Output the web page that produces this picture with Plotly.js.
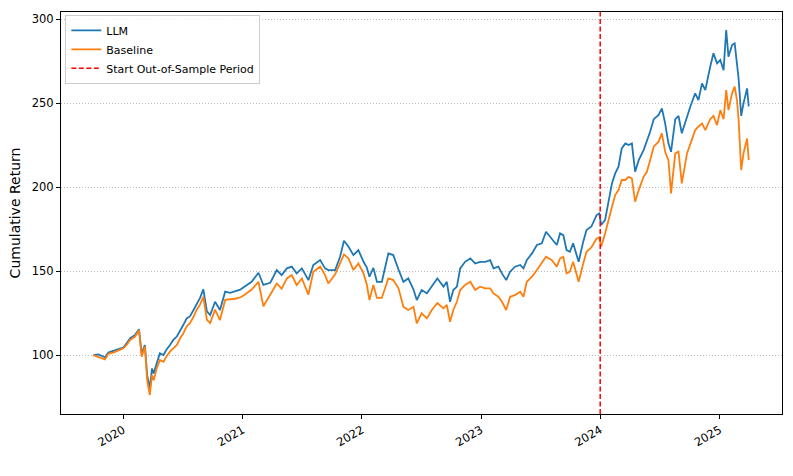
<!DOCTYPE html>
<html>
<head>
<meta charset="utf-8">
<script src="https://cdn.plot.ly/plotly-3.0.1.min.js"></script>
<style>html,body{margin:0;padding:0;background:#fff;}#chart{width:793px;height:476px;}</style>
</head>
<body>
<div id="chart"></div>
<script>
const dates = ["2019-10-01","2019-10-16","2019-11-06","2019-11-16","2019-12-01","2019-12-17","2020-01-01","2020-01-11","2020-01-22","2020-02-06",
"2020-02-18","2020-02-26","2020-03-07","2020-03-14","2020-03-22","2020-03-29","2020-04-03","2020-04-12","2020-04-22","2020-05-03",
"2020-05-13","2020-05-23","2020-06-02","2020-06-13","2020-06-23","2020-07-03","2020-07-13","2020-07-23","2020-08-03","2020-08-13",
"2020-08-23","2020-09-02","2020-09-13","2020-09-23","2020-10-08","2020-10-23","2020-11-08","2020-11-23","2020-12-08","2020-12-24",
"2021-01-08","2021-01-28","2021-02-18","2021-03-05","2021-03-26","2021-04-15","2021-04-30","2021-05-16","2021-05-31","2021-06-15",
"2021-07-01","2021-07-21","2021-08-05","2021-08-26","2021-09-10","2021-09-20","2021-10-11","2021-10-26","2021-11-07","2021-11-21",
"2021-12-06","2021-12-21","2022-01-06","2022-01-16","2022-01-24","2022-02-05","2022-02-16","2022-03-03","2022-03-23","2022-04-07",
"2022-04-23","2022-05-08","2022-05-23","2022-06-08","2022-06-18","2022-07-03","2022-07-19","2022-08-03","2022-08-20","2022-09-08",
"2022-09-18","2022-09-28","2022-10-08","2022-10-19","2022-10-29","2022-11-13","2022-11-29","2022-12-14","2022-12-29","2023-01-14",
"2023-01-29","2023-02-08","2023-02-23","2023-03-06","2023-03-19","2023-03-31","2023-04-15","2023-05-01","2023-05-11","2023-05-21",
"2023-06-06","2023-06-21","2023-07-06","2023-07-19","2023-08-06","2023-08-21","2023-08-31","2023-09-10","2023-09-20","2023-09-30",
"2023-10-10","2023-10-21","2023-10-27","2023-11-10","2023-11-20","2023-12-05","2023-12-21","2023-12-29","2024-01-04","2024-01-16",
"2024-01-26","2024-02-06","2024-02-16","2024-02-26","2024-03-07","2024-03-18","2024-03-28","2024-04-07","2024-04-17","2024-04-28",
"2024-05-13","2024-05-23","2024-06-02","2024-06-13","2024-06-28","2024-07-08","2024-07-18","2024-07-28","2024-08-05","2024-08-18",
"2024-08-28","2024-09-07","2024-09-23","2024-10-03","2024-10-18","2024-10-28","2024-11-08","2024-11-18","2024-12-03","2024-12-13",
"2024-12-24","2025-01-03","2025-01-13","2025-01-21","2025-01-28","2025-02-08","2025-02-16","2025-02-23","2025-02-28","2025-03-08",
"2025-03-15","2025-03-26","2025-03-31"];

const llm = [100,100.3,98.7,101.5,102.5,103.5,104.5,107,110,112,
115.3,101,106,88,80.2,92,89,95,101,100,
103.5,106,109,111,115,118,121.8,123,126.8,130.8,
134,139.1,126,123.8,131.7,126.8,137.7,137,138,138.9,
141,143.6,149,141.7,143,150.6,147.6,151.6,152.6,148.6,
151.6,144.6,153.6,156.5,151.6,150.6,150.6,158.5,168,164.5,
159.5,162.5,155.5,152,146.6,151.9,143.6,143.6,160.5,159.5,
150.9,143.6,145.6,139,132.7,138.7,136.7,140.7,145.6,140.7,
143.6,131.7,138.7,140.7,151.6,155.5,157.5,154.5,155.5,155.5,
156.5,151.6,152.6,148.6,144.6,149.6,152.6,153.6,151.6,156.5,
160.5,165.5,166.5,173.4,169.4,165.5,172.4,171.4,162.5,161.5,
166.5,159.5,155.5,167.5,174.4,176.5,183.3,184.3,177.4,180.4,
190.3,202.2,208.1,212.1,223,226,225,226,209.1,216,
222,227,232.9,240.4,242.9,246.8,237.9,226,221,240.4,
242.4,232,242.4,247.8,255.8,251.8,261.7,257.7,271.6,279.6,
273.6,275.6,269.6,293.5,277.6,284.5,285.5,273.6,264.7,242.4,
249.8,258.7,248];

const baseline = [100,98.8,97.4,100.8,101.5,102.8,104,106,109,111,
114.8,99,105,85,76.2,88,85,92,97,96,
99.5,102,104,106,110,113,117,119,122.8,127,
130,134.7,121,119,127,120.8,132.8,133,133.5,134.3,
136,139,143.6,129,136,142.6,139.5,145.6,147.6,141.7,
145.6,136,149.6,152.6,147.6,142.6,148,154.5,159.9,157.5,
150.6,154.5,148.6,142,132.7,141.7,134,134,145.6,144.6,
139.7,128.7,126.8,128.7,118.8,124.8,121.8,126.8,131,127.8,
129.8,119.8,126.8,131.7,138.7,141.7,143.6,138.7,140.7,139.7,
139.7,136.7,134.7,131.7,126.8,134.7,135.7,137.7,134.7,143.6,
146.6,150.6,154.5,158.5,156.5,152.6,157.5,158.5,148.6,149.6,
155.5,147.6,143.6,154.5,161.5,164,169.4,170,164.5,172.4,
180.4,188.3,195.2,198.2,204.2,204.2,206.1,205.2,191.3,198.2,
206.1,209.1,216,224,227,232,221,216,196.2,220,
221,202.2,220,226,233.9,235.9,237.9,233.9,240.4,242.4,
236.9,245.8,240.4,257.7,245.8,255.8,259.8,251.8,240.4,210,
220,228.9,216];

const seriesNames = ["LLM", "Baseline"];
const oosLabel = "Start Out-of-Sample Period";
const oosDate = "2024-01-01";
const yTicks = [100, 150, 200, 250, 300];
const xRange = ["2019-06-24", "2025-07-11"];
const yRange = [64.9, 304.2];

const traces = [
  {x: dates, y: llm, name: seriesNames[0], type: "scatter", mode: "lines",
   line: {color: "#1f77b4", width: 1.8}},
  {x: dates, y: baseline, name: seriesNames[1], type: "scatter", mode: "lines",
   line: {color: "#ff7f0e", width: 1.8}},
  {x: [oosDate, oosDate], y: yRange, name: oosLabel, type: "scatter", mode: "lines",
   line: {color: "red", width: 1.5, dash: "5px,2.5px"}}
];

const font = "DejaVu Sans, Arial, sans-serif";
const layout = {
  width: 793, height: 476,
  margin: {l: 61, r: 11, t: 12, b: 62},
  paper_bgcolor: "#fff", plot_bgcolor: "#fff",
  font: {family: font, size: 11.5, color: "#000"},
  showlegend: true,
  legend: {x: 0.006, y: 0.993, xanchor: "left", yanchor: "top",
    bgcolor: "rgba(255,255,255,0.8)", bordercolor: "#cccccc", borderwidth: 1,
    font: {family: font, size: 11}},
  xaxis: {type: "date", range: xRange, tick0: "2020-01-01", dtick: "M12", tickformat: "%Y",
    tickangle: -30, ticks: "outside", ticklen: 4, tickcolor: "#000",
    showgrid: false, zeroline: false, showline: true, linecolor: "#000", linewidth: 1, mirror: true,
    tickfont: {family: font, size: 11.5}},
  yaxis: {range: yRange, tickvals: yTicks, ticks: "outside", ticklen: 4, tickcolor: "#000",
    showgrid: true, gridcolor: "#aaaaaa", griddash: "1px,2px", gridwidth: 0.8,
    zeroline: false, showline: true, linecolor: "#000", linewidth: 1, mirror: true,
    title: {text: "Cumulative Return", font: {family: font, size: 14}, standoff: 7},
    tickfont: {family: font, size: 11.5}}
};

Plotly.newPlot("chart", traces, layout, {staticPlot: true, displayModeBar: false});
</script>
</body>
</html>
